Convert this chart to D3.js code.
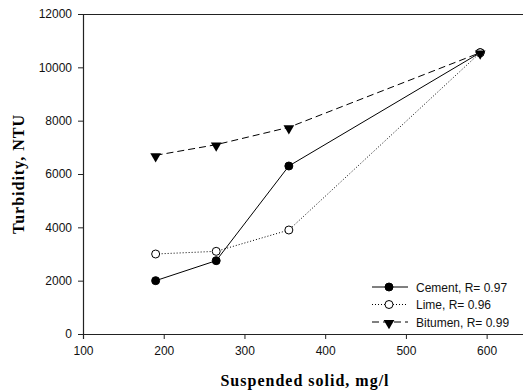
<!DOCTYPE html>
<html lang="en">
<head>
    <meta charset="UTF-8">
    <title>Turbidity vs suspended solid</title>
    <style>
        body { margin: 0; background: #fff; }
    </style>
</head>
<body>
    <script src="https://cdn.jsdelivr.net/npm/d3@7"></script>
    <script>
        // data
        const solids = [190, 265, 355, 592];
        const cement = [2000, 2750, 6300, 10550];
        const lime = [3000, 3100, 3900, 10550];
        const bitumen = [6700, 7100, 7750, 10550];
        const seriesNames = ['Cement, R= 0.97', 'Lime, R= 0.96', 'Bitumen, R= 0.99'];
        const xTicks = [100, 200, 300, 400, 500, 600];
        const yTicks = [0, 2000, 4000, 6000, 8000, 10000, 12000];

        const w = 523;
        const h = 392;
        const svg = d3.select('body')
            .append('svg')
            .attr('width', w)
            .attr('height', h);

        const xScale = d3.scaleLinear().domain([100, 650]).range([83, 527]);
        const yScale = d3.scaleLinear().domain([0, 12000]).range([334, 14]);

        // frame top line
        svg.append('line')
            .attr('x1', 83).attr('x2', w)
            .attr('y1', 14.5).attr('y2', 14.5)
            .attr('stroke', '#222').attr('stroke-width', 1.2);

        const xAxis = svg.append('g')
            .attr('transform', 'translate(0,334)')
            .call(d3.axisBottom(xScale).tickValues(xTicks).tickFormat(d3.format('d')).tickSize(5).tickPadding(7));
        const yAxis = svg.append('g')
            .attr('transform', 'translate(83,0)')
            .call(d3.axisLeft(yScale).tickValues(yTicks).tickFormat(d3.format('d')).tickSize(5).tickPadding(6));

        [xAxis, yAxis].forEach(g => {
            g.select('.domain').attr('stroke', '#222').attr('stroke-width', 1.2);
            g.selectAll('.tick line').attr('stroke', '#222');
            g.selectAll('text')
                .attr('font-family', 'Liberation Sans, Arial, sans-serif')
                .attr('font-size', '12px')
                .attr('fill', '#111');
        });

        // axis titles
        svg.append('text')
            .attr('x', 305).attr('y', 386)
            .attr('text-anchor', 'middle')
            .attr('font-family', 'Liberation Serif, Times New Roman, serif')
            .attr('font-weight', 'bold')
            .attr('font-size', '16px')
            .attr('letter-spacing', '1px')
            .text('Suspended solid, mg/l');
        svg.append('text')
            .attr('transform', 'translate(24,174) rotate(-90)')
            .attr('text-anchor', 'middle')
            .attr('font-family', 'Liberation Serif, Times New Roman, serif')
            .attr('font-weight', 'bold')
            .attr('font-size', '16px')
            .attr('letter-spacing', '1px')
            .text('Turbidity, NTU');

        const series = [
            { name: seriesNames[0], values: cement, dash: null, marker: 'filled' },
            { name: seriesNames[1], values: lime, dash: '1,2', marker: 'open' },
            { name: seriesNames[2], values: bitumen, dash: '7,4', marker: 'tri' }
        ];

        const line = d3.line()
            .x((d, i) => xScale(solids[i]))
            .y(d => yScale(d));

        const triangle = d3.symbol().type(d3.symbolTriangle).size(50);

        function drawMarker(g, kind, x, y) {
            if (kind === 'tri') {
                g.append('path')
                    .attr('d', triangle())
                    .attr('transform', `translate(${x},${y + 1}) rotate(180)`)
                    .attr('fill', '#000');
            } else {
                g.append('circle')
                    .attr('cx', x).attr('cy', y).attr('r', 4)
                    .attr('fill', kind === 'filled' ? '#000' : '#fff')
                    .attr('stroke', '#000').attr('stroke-width', 1);
            }
        }

        series.forEach(s => {
            svg.append('path')
                .attr('d', line(s.values))
                .attr('fill', 'none')
                .attr('stroke', '#000')
                .attr('stroke-width', 1)
                .attr('stroke-dasharray', s.dash);
            const g = svg.append('g');
            s.values.forEach((v, i) => drawMarker(g, s.marker, xScale(solids[i]), yScale(v)));
        });

        // legend
        const legend = svg.append('g');
        series.forEach((s, i) => {
            const y = 287 + i * 17.5;
            legend.append('line')
                .attr('x1', 372).attr('x2', 408)
                .attr('y1', y).attr('y2', y)
                .attr('stroke', '#000')
                .attr('stroke-dasharray', s.dash);
            drawMarker(legend, s.marker, 389, y);
            legend.append('text')
                .attr('x', 416).attr('y', y + 4.5)
                .attr('font-family', 'Liberation Sans, Arial, sans-serif')
                .attr('font-size', '12px')
                .attr('fill', '#111')
                .text(s.name);
        });
    </script>
</body>
</html>
